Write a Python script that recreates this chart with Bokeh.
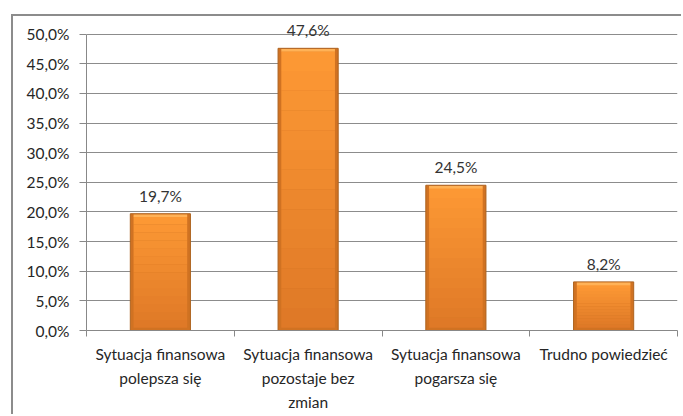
from bokeh.plotting import figure
from bokeh.layouts import column
from bokeh.models import Range1d, FixedTicker, CustomJSTickFormatter, ColumnDataSource, LabelSet
from bokeh.core.properties import value
from bokeh.embed import file_html
from bokeh.resources import INLINE

categories = ["Sytuacja finansowa\npolepsza się",
              "Sytuacja finansowa\npozostaje bez\nzmian",
              "Sytuacja finansowa\npogarsza się",
              "Trudno powiedzieć"]
values = [19.7, 47.6, 24.5, 8.2]
value_labels = ["19,7%", "47,6%", "24,5%", "8,2%"]
y_ticks = [0, 5, 10, 15, 20, 25, 30, 35, 40, 45, 50]

FONT = "Lato"
FS = "15.5px"
pos = [i + 0.5 for i in range(len(values))]
bw = 0.407
inset = 0.022
iw = bw - 2 * inset
src = ColumnDataSource(dict(
    x=pos, top=values, lab=value_labels,
    hl_bot=[v - 0.55 for v in values],
    hl_top=[v - 0.12 for v in values],
))

# vertical gradient bands inside each bar (styling only, derived from the values)
NB = 14
c_bot = (0xDE, 0x78, 0x27)
c_top = (0xFD, 0x99, 0x34)
gx, gt, gb, gc = [], [], [], []
for xv, v in zip(pos, values):
    lo, hi = 0.45, v - 0.5
    for k in range(NB):
        f = (k + 0.5) / NB
        col = tuple(round(a + (b - a) * f) for a, b in zip(c_bot, c_top))
        gx.append(xv)
        gb.append(lo + (hi - lo) * k / NB)
        gt.append(lo + (hi - lo) * (k + 1) / NB + 0.02)
        gc.append("#%02X%02X%02X" % col)
grad = ColumnDataSource(dict(x=gx, top=gt, bottom=gb, color=gc))

p = figure(width=668, height=398, output_backend="svg", toolbar_location=None,
           x_range=Range1d(0, len(values)), y_range=Range1d(0, 52.8),
           min_border_left=73, min_border_right=4, min_border_top=1, min_border_bottom=79)
p.outline_line_color = None
p.background_fill_color = "white"
p.border_fill_color = "white"

# bars
p.vbar(x="x", top="top", bottom=0, width=bw, source=src,
       fill_color="#D07222", line_color="#AE631F", line_width=1)
p.vbar(x="x", top="top", bottom="bottom", width=iw, source=grad,
       fill_color="color", line_color=None)
p.vbar(x="x", top="hl_top", bottom="hl_bot", width=iw, source=src,
       fill_color="#FFB257", line_color=None)

labels = LabelSet(x="x", y="top", text="lab", source=src, text_align="center",
                  text_baseline="bottom", y_offset=9, text_font=value(FONT),
                  text_font_size=value(FS), text_color="#333333")
p.add_layout(labels)

# y axis
p.yaxis.ticker = FixedTicker(ticks=y_ticks, minor_ticks=[])
p.yaxis.bounds = (0, 50)
p.yaxis.formatter = CustomJSTickFormatter(code="return tick.toFixed(1).replace('.', ',') + '%';")
p.yaxis.axis_line_color = "#888888"
p.yaxis.major_tick_line_color = "#888888"
p.yaxis.major_tick_out = 7
p.yaxis.major_tick_in = 0
p.yaxis.major_label_standoff = 10
p.yaxis.major_label_text_font = FONT
p.yaxis.major_label_text_font_size = FS
p.yaxis.major_label_text_color = "#262626"

# x axis: labels at centers, separator ticks at boundaries
p.xaxis.ticker = FixedTicker(ticks=pos, minor_ticks=list(range(len(values) + 1)))
p.xaxis.formatter = CustomJSTickFormatter(args=dict(labels=categories),
                                          code="return labels[Math.floor(tick)];")
p.xaxis.axis_line_color = "#888888"
p.xaxis.major_tick_line_color = None
p.xaxis.major_tick_out = 0
p.xaxis.minor_tick_line_color = "#888888"
p.xaxis.minor_tick_out = 6
p.xaxis.minor_tick_in = 0
p.xaxis.major_label_standoff = 8
p.xaxis.major_label_text_font = FONT
p.xaxis.major_label_text_font_size = FS
p.xaxis.major_label_text_color = "#262626"
p.xaxis.major_label_text_line_height = 1.35

p.xgrid.visible = False
p.ygrid.ticker = FixedTicker(ticks=y_ticks)
p.ygrid.grid_line_color = "#8c8c8c"

layout = column(p, styles={"border-left": "2px solid #8c8c8c",
                           "border-top": "2px solid #8c8c8c",
                           "margin-left": "11px", "margin-top": "14px"})

open("out.html", "w").write(file_html(layout, INLINE))
